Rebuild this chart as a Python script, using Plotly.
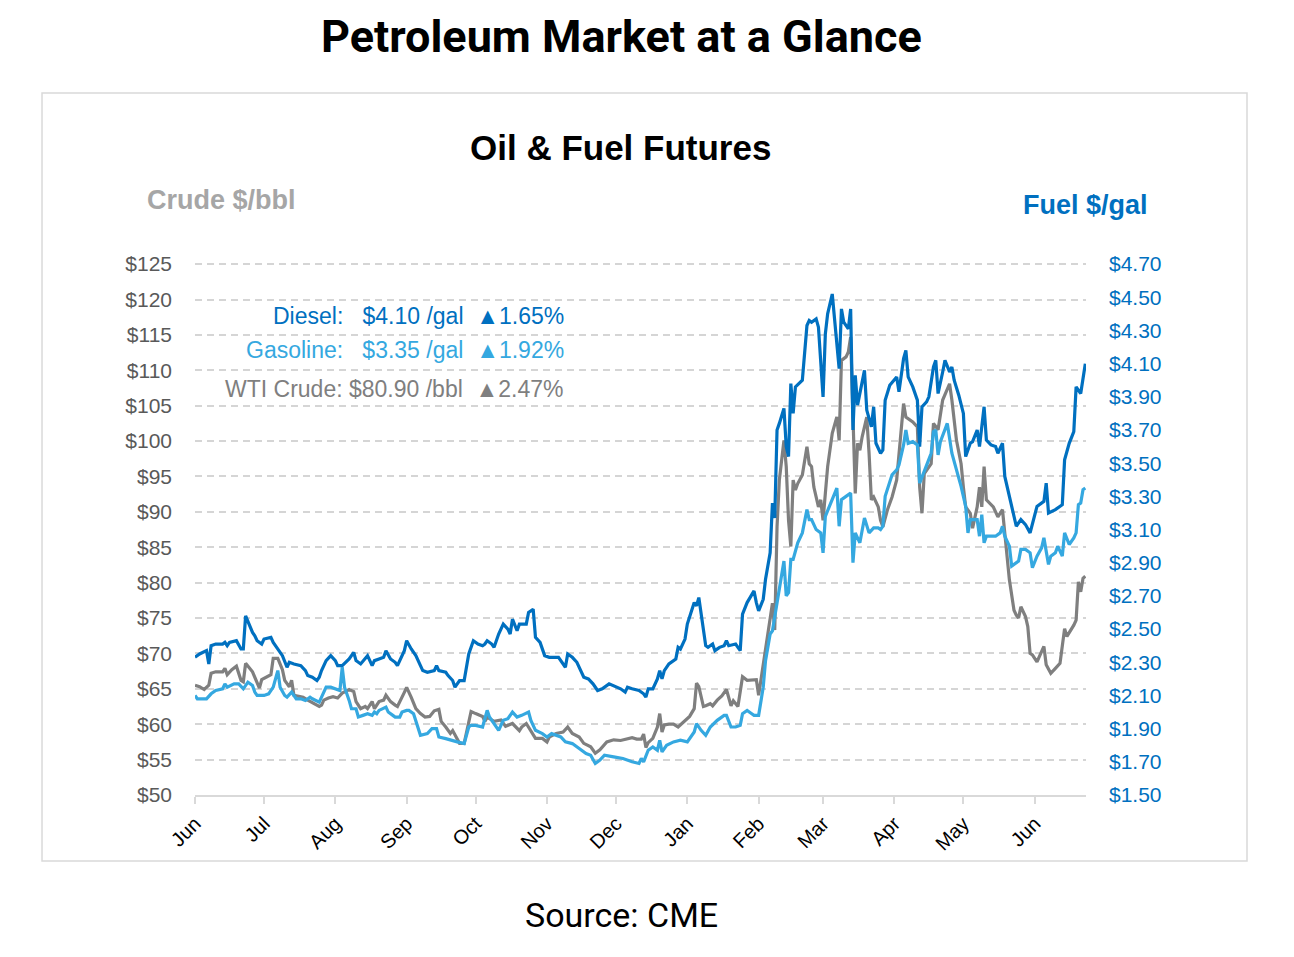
import pandas as pd
import plotly.graph_objects as go

# trading days are given as day offsets from 1 Jun 2025
START = pd.Timestamp("2025-06-01")

# Diesel futures, $/gal (right axis)
diesel_days = [0, 2, 5, 6, 7, 9, 12, 13, 14, 15, 18, 20, 21, 22, 25, 26, 27, 29, 30, 33,
               34, 36, 38, 40, 41, 43, 46, 48, 49, 51, 53, 54, 55, 57, 59, 61, 62, 64, 66, 67,
               69, 70, 72, 74, 75, 77, 78, 80, 82, 83, 85, 87, 88, 91, 92, 94, 96, 98, 99, 101,
               104, 105, 106, 109, 110, 112, 113, 115, 117, 119, 121, 123, 125, 126, 127, 129, 130, 132, 134, 136,
               137, 138, 140, 141, 144, 145, 147, 148, 150, 152, 154, 158, 159, 161, 162, 164, 166, 167, 169, 171,
               173, 175, 177, 180, 183, 185, 187, 188, 190, 193, 195, 196, 197, 199, 201, 202, 203, 204, 206, 209,
               210, 211, 213, 214, 217, 218, 219, 221, 222, 223, 225, 226, 228, 230, 231, 232, 234, 235, 237, 238,
               240, 243, 244, 245, 247, 248, 250, 251, 252, 253, 254, 256, 257, 258, 259, 260, 261, 264, 266, 267,
               268, 270, 271, 273, 274, 275, 277, 279, 280, 281, 282, 284, 285, 286, 287, 288, 291, 292, 294, 295,
               296, 298, 299, 300, 302, 305, 306, 308, 309, 310, 312, 314, 315, 316, 318, 319, 321, 322, 323, 325,
               326, 328, 329, 330, 332, 334, 335, 337, 338, 340, 341, 343, 344, 346, 348, 349, 351, 352, 354, 356,
               357, 359, 361, 363, 364, 366, 369, 370, 371, 374, 377, 378, 380, 382, 383, 385, 387]
diesel = [2.33, 2.35, 2.37, 2.29, 2.40, 2.41, 2.41, 2.42, 2.40, 2.42, 2.43, 2.38, 2.38, 2.58, 2.48, 2.46, 2.43, 2.41, 2.44, 2.45,
          2.42, 2.38, 2.34, 2.27, 2.30, 2.29, 2.28, 2.25, 2.22, 2.21, 2.19, 2.21, 2.25, 2.31, 2.34, 2.31, 2.28, 2.28, 2.31, 2.32,
          2.36, 2.31, 2.29, 2.32, 2.34, 2.28, 2.31, 2.32, 2.33, 2.37, 2.32, 2.30, 2.28, 2.37, 2.43, 2.38, 2.34, 2.28, 2.25, 2.24,
          2.25, 2.28, 2.25, 2.24, 2.22, 2.19, 2.15, 2.19, 2.19, 2.35, 2.43, 2.41, 2.40, 2.41, 2.43, 2.41, 2.39, 2.47, 2.53, 2.50,
          2.47, 2.56, 2.49, 2.53, 2.53, 2.60, 2.62, 2.45, 2.42, 2.34, 2.33, 2.33, 2.31, 2.27, 2.35, 2.33, 2.30, 2.27, 2.21, 2.20,
          2.17, 2.13, 2.14, 2.17, 2.15, 2.14, 2.12, 2.15, 2.14, 2.13, 2.11, 2.09, 2.14, 2.14, 2.20, 2.25, 2.20, 2.25, 2.29, 2.32,
          2.39, 2.38, 2.44, 2.53, 2.66, 2.64, 2.69, 2.49, 2.40, 2.39, 2.41, 2.37, 2.39, 2.40, 2.43, 2.40, 2.41, 2.41, 2.37, 2.59,
          2.66, 2.73, 2.66, 2.61, 2.68, 2.80, 2.96, 3.26, 3.17, 3.70, 3.74, 3.83, 3.60, 3.54, 3.98, 3.80, 3.96, 4.00, 4.33, 4.36,
          4.35, 4.37, 4.32, 3.90, 4.28, 4.40, 4.52, 4.20, 4.07, 4.43, 4.35, 4.31, 4.43, 3.70, 4.03, 3.85, 4.06, 3.82, 3.72, 3.84,
          3.62, 3.56, 3.58, 3.88, 3.97, 4.02, 3.93, 4.13, 4.18, 4.02, 3.96, 3.88, 3.60, 3.84, 3.87, 3.90, 4.08, 4.12, 3.92, 4.05,
          4.12, 4.05, 4.08, 4.00, 3.91, 3.80, 3.54, 3.62, 3.63, 3.70, 3.60, 3.84, 3.64, 3.61, 3.60, 3.56, 3.62, 3.42, 3.30, 3.18,
          3.12, 3.16, 3.13, 3.08, 3.14, 3.24, 3.27, 3.38, 3.20, 3.22, 3.25, 3.52, 3.62, 3.69, 3.96, 3.92, 4.10]

# Gasoline futures, $/gal (right axis)
gasoline_days = [0, 1, 4, 5, 7, 9, 12, 13, 14, 17, 19, 21, 23, 25, 26, 27, 30, 32, 34, 36,
                 37, 39, 40, 42, 44, 46, 48, 50, 51, 54, 55, 57, 59, 61, 62, 63, 64, 65, 67, 68,
                 70, 71, 73, 75, 77, 78, 79, 80, 83, 84, 86, 87, 89, 90, 92, 93, 95, 97, 98, 101,
                 103, 105, 106, 109, 111, 112, 114, 117, 119, 120, 122, 125, 126, 127, 128, 130, 132, 134, 136, 138,
                 140, 142, 145, 146, 148, 151, 153, 155, 159, 161, 164, 167, 170, 172, 174, 176, 178, 182, 186, 190,
                 193, 194, 195, 197, 199, 201, 202, 203, 205, 208, 211, 214, 217, 218, 220, 222, 224, 227, 230, 231,
                 233, 235, 237, 238, 240, 242, 243, 245, 247, 248, 250, 251, 253, 254, 256, 257, 258, 259, 260, 262,
                 264, 266, 267, 268, 270, 272, 273, 274, 277, 279, 280, 281, 283, 285, 286, 287, 289, 291, 293, 295,
                 297, 298, 299, 300, 303, 305, 306, 308, 309, 310, 312, 314, 315, 317, 320, 321, 322, 323, 324, 327,
                 328, 329, 331, 333, 335, 336, 337, 340, 341, 342, 343, 344, 346, 348, 350, 351, 352, 354, 355, 357,
                 358, 359, 361, 363, 364, 366, 368, 369, 371, 372, 374, 375, 377, 378, 380, 382, 383, 384, 385, 386,
                 387]
gasoline = [2.10, 2.08, 2.08, 2.08, 2.11, 2.13, 2.14, 2.17, 2.15, 2.17, 2.17, 2.14, 2.18, 2.16, 2.12, 2.10, 2.10, 2.11, 2.15, 2.25,
            2.15, 2.10, 2.09, 2.12, 2.08, 2.08, 2.07, 2.09, 2.08, 2.06, 2.09, 2.15, 2.15, 2.14, 2.13, 2.13, 2.27, 2.15, 2.07, 2.02,
            2.02, 1.97, 1.98, 1.99, 1.98, 2.00, 1.99, 2.01, 2.03, 2.00, 1.98, 1.97, 1.97, 2.00, 2.01, 2.01, 1.99, 1.91, 1.86, 1.87,
            1.90, 1.90, 1.85, 1.84, 1.83, 1.83, 1.82, 1.81, 1.91, 1.92, 1.92, 1.91, 1.96, 2.01, 1.97, 1.93, 1.89, 1.95, 1.96, 2.00,
            1.97, 1.98, 2.00, 1.95, 1.89, 1.87, 1.85, 1.87, 1.85, 1.82, 1.81, 1.78, 1.75, 1.74, 1.69, 1.71, 1.74, 1.73, 1.72, 1.70,
            1.69, 1.72, 1.70, 1.77, 1.79, 1.77, 1.83, 1.76, 1.80, 1.82, 1.83, 1.82, 1.88, 1.93, 1.89, 1.86, 1.91, 1.95, 1.98, 1.98,
            1.91, 1.91, 1.92, 1.99, 2.01, 1.99, 1.98, 1.98, 2.15, 2.31, 2.47, 2.49, 2.66, 2.76, 2.91, 2.70, 2.72, 2.92, 2.92, 3.02,
            3.08, 3.22, 3.16, 3.16, 3.10, 3.08, 2.96, 3.18, 3.28, 3.35, 3.12, 3.28, 3.30, 3.32, 2.90, 3.08, 3.02, 3.17, 3.08, 3.11,
            3.11, 3.10, 3.12, 3.30, 3.43, 3.46, 3.49, 3.61, 3.70, 3.62, 3.63, 3.61, 3.38, 3.45, 3.56, 3.69, 3.70, 3.55, 3.63, 3.74,
            3.66, 3.56, 3.46, 3.36, 3.24, 3.08, 3.16, 3.16, 3.06, 3.19, 3.02, 3.06, 3.06, 3.06, 3.08, 3.12, 3.06, 3.00, 2.88, 2.90,
            2.91, 2.98, 2.98, 2.96, 2.87, 2.94, 2.99, 3.05, 2.89, 2.94, 2.96, 3.00, 2.94, 3.08, 3.01, 3.05, 3.08, 3.25, 3.26, 3.34,
            3.35]

# WTI crude futures, $/bbl (left axis)
crude_days = [0, 2, 4, 6, 7, 9, 12, 13, 14, 16, 18, 20, 21, 22, 25, 26, 28, 29, 31, 33,
              34, 36, 38, 39, 41, 42, 43, 45, 47, 49, 51, 54, 55, 56, 58, 60, 62, 64, 67, 69,
              70, 72, 74, 75, 77, 78, 80, 82, 83, 85, 87, 88, 91, 92, 94, 96, 98, 100, 102, 104,
              106, 107, 109, 111, 112, 114, 115, 117, 119, 120, 122, 125, 126, 127, 130, 133, 135, 137, 138, 141,
              142, 144, 147, 148, 151, 153, 154, 157, 160, 162, 164, 167, 169, 170, 172, 174, 176, 179, 182, 185,
              188, 190, 192, 194, 195, 196, 197, 199, 201, 202, 203, 204, 206, 208, 210, 212, 214, 215, 217, 218,
              219, 221, 222, 224, 225, 227, 229, 231, 233, 234, 236, 238, 240, 242, 244, 245, 247, 249, 251, 252,
              253, 254, 256, 257, 258, 259, 260, 261, 262, 264, 266, 267, 268, 269, 271, 272, 273, 274, 275, 277,
              279, 280, 281, 283, 284, 285, 286, 287, 288, 289, 290, 292, 293, 294, 295, 297, 298, 299, 301, 303,
              305, 306, 308, 309, 310, 312, 314, 315, 316, 317, 320, 321, 323, 324, 325, 328, 329, 331, 333, 334,
              335, 337, 338, 340, 341, 342, 343, 344, 347, 349, 351, 352, 353, 354, 356, 357, 358, 359, 361, 362,
              363, 364, 366, 367, 369, 370, 372, 374, 376, 378, 379, 382, 383, 384, 385, 386, 387]
crude = [65.5, 65.3, 64.9, 65.5, 67.2, 67.4, 67.4, 67.9, 67.0, 67.7, 68.2, 66.2, 66.0, 68.6, 67.4, 66.7, 65.1, 66.3, 66.7, 67.0,
         69.3, 69.3, 67.7, 66.2, 65.3, 66.2, 64.1, 64.0, 63.8, 63.4, 63.0, 62.5, 62.7, 63.4, 63.7, 63.9, 63.7, 64.4, 64.9, 64.6,
         63.2, 62.2, 62.5, 62.2, 63.2, 62.2, 63.2, 63.4, 64.1, 63.2, 62.7, 62.5, 64.5, 65.2, 63.8, 62.2, 61.5, 61.0, 61.1, 61.9,
         62.1, 60.4, 59.6, 58.7, 59.1, 58.0, 57.3, 57.3, 60.6, 61.8, 61.5, 61.1, 60.4, 61.0, 60.4, 60.6, 59.7, 59.9, 60.1, 59.1,
         59.6, 60.1, 58.5, 58.0, 58.0, 57.5, 58.2, 58.7, 58.9, 59.6, 58.7, 58.2, 57.3, 57.1, 56.8, 55.9, 56.4, 57.5, 57.8, 57.7,
         57.9, 58.1, 57.9, 57.9, 58.6, 56.7, 57.4, 58.0, 59.6, 61.5, 58.9, 59.9, 60.0, 60.0, 59.6, 60.2, 60.7, 61.1, 62.2, 65.8,
         65.3, 62.5, 62.6, 62.9, 62.6, 63.4, 64.0, 64.9, 62.6, 63.3, 62.5, 66.7, 66.2, 66.3, 66.3, 64.1, 68.6, 72.8, 77.1, 73.3,
         87.9, 94.5, 100.1, 96.4, 88.8, 85.1, 94.5, 93.1, 94.0, 95.2, 99.2, 96.8, 96.4, 93.5, 90.7, 91.7, 88.8, 92.6, 96.4, 101.1,
         103.4, 100.1, 111.4, 111.9, 112.6, 114.7, 103.9, 92.6, 99.7, 98.7, 100.6, 103.4, 98.3, 91.7, 92.1, 90.7, 88.8, 87.9, 90.3, 92.1,
         94.5, 98.3, 105.3, 103.4, 103.2, 102.7, 102.0, 93.5, 89.8, 95.4, 96.8, 102.5, 101.6, 103.9, 105.8, 108.1, 105.8, 100.1, 96.8, 93.5,
         90.7, 89.8, 87.7, 90.7, 93.5, 90.7, 96.4, 91.7, 90.7, 89.3, 90.3, 87.0, 83.7, 80.4, 76.1, 75.4, 75.0, 76.6, 75.2, 73.8,
         70.0, 69.8, 68.8, 69.5, 71.0, 68.4, 67.2, 67.9, 68.6, 73.5, 72.4, 74.0, 74.7, 80.1, 78.7, 80.6, 80.9]

crude_ticks = list(range(50, 130, 5))
crude_labels = [f"${v}" for v in crude_ticks]
fuel_ticks = [round(1.5 + 0.2 * i, 2) for i in range(17)]
fuel_labels = [f"${v:.2f}" for v in fuel_ticks]
month_labels = ["Jun", "Jul", "Aug", "Sep", "Oct", "Nov", "Dec",
                "Jan", "Feb", "Mar", "Apr", "May", "Jun"]

summary = [
    ("Diesel:\u00a0\u00a0\u00a0$4.10 /gal\u00a0\u00a0▲1.65%", "#0070C0"),
    ("Gasoline:\u00a0\u00a0\u00a0$3.35 /gal\u00a0\u00a0▲1.92%", "#35A8E0"),
    ("WTI Crude: $80.90 /bbl\u00a0\u00a0▲2.47%", "#7F7F7F"),
]

DIESEL_C = "#0070C0"
GAS_C = "#35A8E0"
CRUDE_C = "#7F7F7F"
FONT = "Liberation Sans, Arial, sans-serif"

# small headroom so the top gridline is drawn; both axes keep the same scale
PAD = 0.3


def to_dates(days):
    return START + pd.to_timedelta(days, unit="D")


fig = go.Figure()
fig.add_trace(go.Scatter(x=to_dates(diesel_days), y=diesel, yaxis="y2", mode="lines",
                         line=dict(color=DIESEL_C, width=3.2), name="Diesel"))
fig.add_trace(go.Scatter(x=to_dates(gasoline_days), y=gasoline, yaxis="y2", mode="lines",
                         line=dict(color=GAS_C, width=3.2), name="Gasoline"))
fig.add_trace(go.Scatter(x=to_dates(crude_days), y=crude, yaxis="y", mode="lines",
                         line=dict(color=CRUDE_C, width=3.2), name="WTI Crude"))

month_ticks = pd.date_range(START, periods=len(month_labels), freq="MS")

# the page body adds an 8px offset, so margins are shifted back by 8px
fig.update_layout(
    width=1294, height=957,
    margin=dict(l=187, r=216, t=254, b=170),
    paper_bgcolor="white", plot_bgcolor="white",
    showlegend=False,
    font=dict(family=FONT),
    xaxis=dict(
        type="date",
        range=[START, START + pd.Timedelta(days=387.3)],
        tickvals=month_ticks, ticktext=month_labels,
        tickangle=-45, tickfont=dict(size=20, color="black"),
        ticks="outside", ticklen=7, tickcolor="#D9D9D9", tickwidth=1.5,
        showline=True, linecolor="#D9D9D9", linewidth=2,
        showgrid=False, zeroline=False,
    ),
    yaxis=dict(
        range=[50, 125 + PAD], tickvals=crude_ticks, ticktext=crude_labels,
        tickfont=dict(size=21, color="#595959"),
        showgrid=True, gridcolor="#D5D5D5", gridwidth=1.5, griddash="7px,5px",
        zeroline=False, showline=False, ticklabelstandoff=22,
    ),
    yaxis2=dict(
        range=[1.5, 4.7 + PAD * 3.2 / 75], tickvals=fuel_ticks, ticktext=fuel_labels,
        overlaying="y", side="right",
        tickfont=dict(size=21, color="#0070C0"),
        showgrid=False, zeroline=False, showline=False, ticklabelstandoff=22,
    ),
)

# outer chart border (paper coords of the plot area, 891x533 px)
fig.add_shape(type="rect", xref="paper", yref="paper",
              x0=-0.1717, x1=1.1807, y0=-0.1238, y1=1.3171,
              line=dict(color="#D9D9D9", width=1.5), layer="below")

texts = [
    dict(text="<b>Petroleum Market at a Glance</b>", x=0.4792, y=1.4222, xanchor="center",
         font=dict(size=45, color="black", family="Roboto, Arial, sans-serif")),
    dict(text="<b>Oil & Fuel Futures</b>", x=0.4770, y=1.2139, xanchor="center",
         font=dict(size=35, color="black")),
    dict(text="<b>Crude $/bbl</b>", x=-0.0561, y=1.1163, xanchor="left",
         font=dict(size=27, color="#A6A6A6")),
    dict(text="<b>Fuel $/gal</b>", x=1.0718, y=1.1069, xanchor="right",
         font=dict(size=27, color="#0070C0")),
    dict(text="Source: CME", x=0.4792, y=-0.2251, xanchor="center",
         font=dict(size=34, color="black", family="Roboto, Arial, sans-serif")),
]
for row, yy in zip(summary, [0.8987, 0.8349, 0.7617]):
    texts.append(dict(text=row[0], x=0.4164, y=yy, xanchor="right",
                      font=dict(size=23, color=row[1])))

for t in texts:
    fig.add_annotation(xref="paper", yref="paper", yanchor="middle",
                       showarrow=False, **t)

fig.write_html("out.html")
